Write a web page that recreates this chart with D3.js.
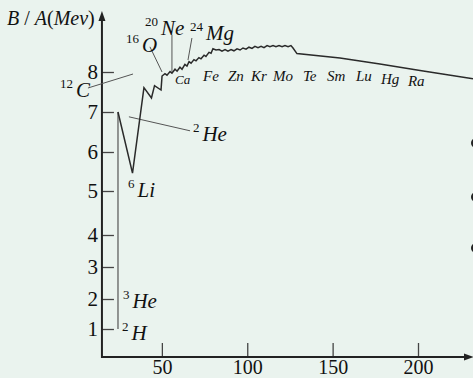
<!DOCTYPE html>
<meta charset="utf-8">
<style>
  body { margin: 0; background: #eaf3ee; }
  svg text { font-family: "Liberation Serif", "Times New Roman", Times, "DejaVu Serif", serif; }
  .lead { stroke: #555; stroke-width: 1; }
</style>
<body>
<script src="https://cdn.jsdelivr.net/npm/d3@7/dist/d3.min.js"></script>
<script>
  // binding energy per nucleon curve
  var massNumber = [24.3, 24.3, 32.8, 39.5, 43.9, 45.7, 49.5, 50.1, 51.8, 53.0, 54.8, 55.9,
    57.7, 58.9, 60.6, 61.8, 63.5, 64.7, 65.9, 67.1, 68.8, 70.0, 71.7, 72.9, 74.7, 75.8,
    77.6, 78.8, 79.9, 81.7, 83.5, 85.2, 87.0, 88.7, 90.5, 92.2, 94.0, 95.8, 97.5, 99.3,
    101.0, 102.8, 104.5, 106.3, 108.1, 109.8, 111.6, 113.3, 115.1, 116.8, 118.6, 120.4,
    122.1, 123.9, 125.6, 126.8, 129.1, 154.3, 177.7, 201.2, 232.2];
  var bindingEnergy = [1.0, 7.0, 5.46, 7.61, 7.35, 7.66, 7.55, 7.90, 7.96, 7.92, 8.01, 7.97,
    8.07, 8.02, 8.12, 8.07, 8.19, 8.15, 8.26, 8.22, 8.31, 8.28, 8.36, 8.33, 8.42, 8.39,
    8.49, 8.47, 8.58, 8.55, 8.56, 8.52, 8.56, 8.52, 8.56, 8.53, 8.58, 8.55, 8.60, 8.57,
    8.62, 8.59, 8.64, 8.61, 8.64, 8.61, 8.66, 8.63, 8.66, 8.63, 8.66, 8.63, 8.66, 8.63,
    8.66, 8.60, 8.46, 8.35, 8.20, 8.04, 7.83];

  var xTicks = [50, 100, 150, 200];
  var yTicks = [1, 2, 3, 4, 5, 6, 7, 8];

  // nuclide labels: [superscript, name, A, B]
  var bigLabels = [["12", "C", -9.7, 7.38], ["16", "O", 29.0, 8.5], ["20", "Ne", 40.1, 8.93],
    ["24", "Mg", 66.5, 8.8], ["2", "He", 68.2, 6.28], ["6", "Li", 30.2, 4.86],
    ["3", "He", 27.2, 1.7], ["2", "H", 26.6, 0.61]];
  var smallLabels = [["Fe", 74.1, 7.78], ["Zn", 88.7, 7.78], ["Kr", 102.2, 7.78],
    ["Mo", 115.1, 7.78], ["Te", 132.6, 7.78], ["Sm", 146.7, 7.78], ["Lu", 163.7, 7.78],
    ["Hg", 178.3, 7.7], ["Ra", 194.1, 7.65]];
  var leaders = [[6.7, 7.6, 33.1, 7.95], [30.7, 6.88, 66.5, 6.53], [43.0, 8.63, 50.1, 8.0],
    [55.9, 8.93, 55.9, 8.0], [67.6, 8.85, 65.3, 8.3]];

  var width = 473, height = 378;
  var svg = d3.select("body").append("svg")
    .attr("width", width).attr("height", height)
    .style("display", "block");

  var x = d3.scaleLinear().domain([0, 200]).range([76.5, 418]);
  // the drawing's vertical scale is hand drawn, so map each unit separately
  var y = d3.scaleLinear()
    .domain([0, 1, 2, 3, 4, 5, 6, 7, 8, 9])
    .range([357, 329, 299, 267, 235, 191, 152, 112, 72, 32]);

  var x0 = x(14.9), y0 = y(0);

  // axes
  var gx = svg.append("g")
    .attr("transform", "translate(0," + y0 + ")")
    .call(d3.axisBottom(x).tickValues(xTicks).tickSizeInner(-14).tickSizeOuter(0).tickPadding(3));
  gx.select(".domain").remove();
  gx.attr("font-family", null);
  gx.selectAll("line").attr("stroke", "#444").attr("stroke-width", 1.3);
  gx.selectAll("text").style("font-size", "20px").attr("fill", "#111");

  var gy = svg.append("g")
    .attr("transform", "translate(" + x0 + ",0)")
    .call(d3.axisLeft(y).tickValues(yTicks).tickSizeInner(-12).tickSizeOuter(0).tickPadding(4));
  gy.select(".domain").remove();
  gy.attr("font-family", null);
  gy.selectAll("line").attr("stroke", "#444").attr("stroke-width", 1.3);
  gy.selectAll("text").style("font-size", "21px").attr("fill", "#111");

  svg.append("line").attr("x1", x0).attr("x2", x0).attr("y1", y0 + 1).attr("y2", 18)
    .attr("stroke", "#222").attr("stroke-width", 2);
  svg.append("path").attr("d", "M" + x0 + ",11 L" + (x0 - 3.5) + ",21 L" + (x0 + 3.5) + ",21Z").attr("fill", "#222");
  svg.append("line").attr("x1", x0).attr("x2", 466).attr("y1", y0).attr("y2", y0)
    .attr("stroke", "#222").attr("stroke-width", 2);
  svg.append("path").attr("d", "M474," + y0 + " L464," + (y0 - 3.5) + " L464," + (y0 + 3.5) + "Z").attr("fill", "#222");

  // y axis title
  var title = svg.append("text").attr("x", 7).attr("y", 25).style("font-size", "20px").attr("fill", "#111");
  title.append("tspan").attr("font-style", "italic").text("B");
  title.append("tspan").text(" / ");
  title.append("tspan").attr("font-style", "italic").text("A");
  title.append("tspan").text("(");
  title.append("tspan").attr("font-style", "italic").text("Mev");
  title.append("tspan").text(")");

  // leader lines
  svg.selectAll(".lead").data(leaders).enter().append("line")
    .attr("class", "lead")
    .attr("x1", function (d) { return x(d[0]); }).attr("y1", function (d) { return y(d[1]); })
    .attr("x2", function (d) { return x(d[2]); }).attr("y2", function (d) { return y(d[3]); });

  // the curve
  var pts = massNumber.map(function (a, i) { return [a, bindingEnergy[i]]; });
  var line = d3.line().x(function (d) { return x(d[0]); }).y(function (d) { return y(d[1]); });
  // first rise (2H to 4He) is drawn thinner and lighter in the figure
  svg.append("path")
    .datum(pts.slice(0, 2))
    .attr("fill", "none")
    .attr("stroke", "#555")
    .attr("stroke-width", 1.2)
    .attr("d", line);
  svg.append("path")
    .datum(pts.slice(1))
    .attr("fill", "none")
    .attr("stroke", "#2a2a2a")
    .attr("stroke-width", 1.5)
    .attr("d", line);

  // labels
  var bl = svg.selectAll(".big").data(bigLabels).enter().append("text")
    .attr("class", "big")
    .attr("x", function (d) { return x(d[2]); })
    .attr("y", function (d) { return y(d[3]); })
    .attr("fill", "#111");
  bl.append("tspan").style("font-size", "13px").attr("dy", -9).text(function (d) { return d[0]; });
  bl.append("tspan").style("font-size", "21px").attr("font-style", "italic").attr("dx", 3).attr("dy", 9)
    .text(function (d) { return d[1]; });

  svg.selectAll(".small").data(smallLabels).enter().append("text")
    .attr("class", "small")
    .attr("x", function (d) { return x(d[1]); })
    .attr("y", function (d) { return y(d[2]); })
    .style("font-size", "15px").attr("font-style", "italic").attr("fill", "#111")
    .text(function (d) { return d[0]; });

  svg.append("text").attr("x", x(57.7)).attr("y", y(7.7))
    .style("font-size", "13px").attr("font-style", "italic").attr("fill", "#111").text("Ca");

  // cut-off marks at the right edge
  [143, 197, 248].forEach(function (cy) {
    svg.append("ellipse").attr("cx", 476).attr("cy", cy).attr("rx", 5).attr("ry", 5).attr("fill", "#222");
  });
</script>
</body>
